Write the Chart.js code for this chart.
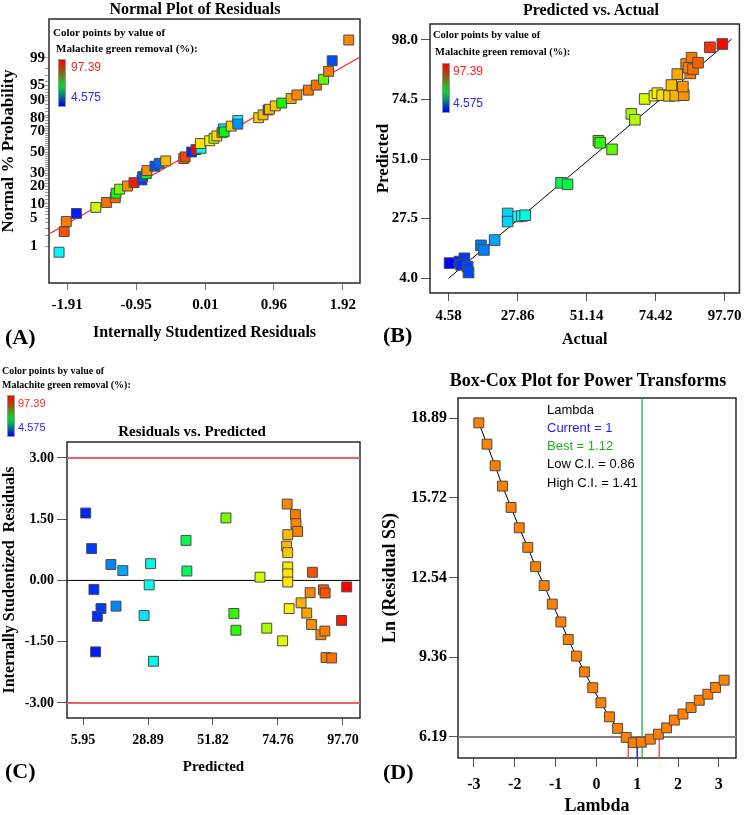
<!DOCTYPE html>
<html><head><meta charset="utf-8">
<script src="https://cdn.jsdelivr.net/npm/chart.js@4.4.1/dist/chart.umd.min.js"></script>
<style>
body{margin:0;background:#fff;width:750px;height:815px;position:relative;overflow:hidden;}
canvas{position:absolute;}
.t{position:absolute;white-space:nowrap;font-family:"Liberation Serif","Times New Roman",serif;font-weight:bold;color:#000;z-index:2;}
.s{position:absolute;white-space:nowrap;font-family:"Liberation Sans",Arial,sans-serif;z-index:2;}
.bar{position:absolute;background:linear-gradient(to bottom,#ff0000 0%,#a84a10 22%,#20c020 48%,#10d040 58%,#008878 76%,#0030d0 90%,#0000ff 100%);border:1px solid #999;z-index:2;}
</style></head><body>
<canvas id="cA" width="375" height="350" style="left:0;top:0"></canvas>
<canvas id="cB" width="375" height="350" style="left:375px;top:0"></canvas>
<canvas id="cC" width="375" height="400" style="left:0;top:400px"></canvas>
<canvas id="cD" width="375" height="435" style="left:375px;top:380px"></canvas>
<script>
// ---------- colour legend ----------
const colorScaleMin = 4.575;
const colorScaleMax = 97.39;

// ---------- Panel A : Normal plot of residuals ----------
const aResidual = [-2.02,-1.95,-1.92,-1.78,-1.51,-1.36,-1.24,-1.23,-1.18,-1.07,-0.98,-0.87,-0.86,-0.81,-0.80,-0.69,-0.63,-0.54,-0.29,-0.27,-0.18,-0.12,-0.05,-0.06,0.07,0.13,0.17,0.24,0.26,0.27,0.37,0.46,0.46,0.75,0.81,0.88,0.90,0.98,1.07,1.20,1.28,1.44,1.55,1.65,1.72,1.77,2.00];
const aProbability = [0.66,2.44,4.27,6.43,8.53,10.6,12.9,15.4,17.9,20.0,22.4,24.5,27.1,29.5,32.3,36.3,39.0,41.3,43.6,45.2,50.0,52.4,53.6,58.3,61.0,63.3,65.5,68.4,71.6,69.1,73.9,78.2,75.5,80.2,82.1,85.1,85.5,87.3,88.7,90.7,92.1,93.7,95.1,96.4,97.7,98.8,99.72];
const aRemoval = [28,90,86,7,70,87,88,52,63,84,95,10,12,50,84,12,14,80,86,91,8,97,30,76,75,68,77,85,26,50,78,28,18,78,80,10,80,79,52,82,85,86,87,60,86,12,85];
const aFitResidual = [-2.16, 2.156];
const aFitProbability = [2.12, 99.06];
const aXTicks = [-1.91,-0.95,0.01,0.96,1.92];
const aYTickProbs = [1,2,3,4,5,6,7,8,9,10,12,14,16,18,20,22,24,26,28,30,32,34,36,38,40,42,44,46,48,50,52,54,56,58,60,62,64,66,68,70,72,74,76,78,80,82,84,86,88,90,91,92,93,94,95,96,97,98,99];
const aYLabeledProbs = [1,5,10,20,30,50,70,80,90,95,99];

// ---------- Panel B : Predicted vs Actual ----------
const bActual = [4.9,8.2,9.9,8.8,11.0,11.3,15.5,16.5,20.1,24.5,24.5,28.0,29.3,30.4,42.5,44.7,55.1,55.7,59.7,66.2,67.4,70.7,74.0,75.0,76.6,78.9,81.0,83.9,79.7,83.6,81.7,86.1,84.7,86.5,85.5,87.0,88.7,92.7,96.9];
const bPredicted = [9.9,10.5,11.8,9.2,8.5,6.2,16.9,15.1,19.0,29.5,26.3,28.3,28.5,28.8,41.6,41.0,58.2,57.4,54.8,68.8,66.5,74.7,76.0,77.0,76.2,75.9,76.0,76.2,80.2,79.6,84.5,84.8,88.5,91.0,87.0,86.5,89.0,95.1,96.4];
const bLineActual = [4.58, 100.0];
const bLinePredicted = [3.9, 98.3];
const bXTicks = [4.58,27.86,51.14,74.42,97.70];
const bYTicks = [4.0,27.5,51.0,74.5,98.0];

// ---------- Panel C : Residuals vs Predicted ----------
const cPredicted = [6.9,9.0,9.8,15.8,20.0,29.8,29.3,42.3,42.6,56.4,68.4,78.0,80.9,81.1,81.7,78.2,77.8,78.2,78.2,78.2,78.2,86.9,86.1,90.8,91.4,99.0,82.9,12.3,11.0,17.6,10.4,27.5,30.8,59.2,59.9,70.8,76.4,78.7,84.9,86.6,89.9,91.3,91.7,93.7,97.2];
const cResidual = [1.65,0.78,-0.22,0.39,0.24,0.41,-0.11,0.98,0.23,1.53,0.08,1.87,1.61,1.39,1.20,1.12,0.84,0.68,0.33,0.16,-0.04,0.20,-0.30,-0.23,-0.31,-0.16,-0.55,-0.69,-0.88,-0.63,-1.75,-0.86,-1.98,-0.81,-1.22,-1.17,-1.48,-0.69,-0.80,-1.08,-1.33,-1.24,-1.89,-1.90,-0.98];
const cRemoval = [8,10,9,17,20,30,29,44,43,62,70,85,86,85,85,80,80,79,76,76,76,90,85,89,90,97,81,10,9,17,7,26,29,55,55,67,72,75,82,84,85,86,86,87,95];
const cLimits = [-3.00, 3.00];
const cXTicks = [5.95,28.89,51.82,74.76,97.70];
const cYTicks = [-3.00,-1.50,0.00,1.50,3.00];

// ---------- Panel D : Box-Cox ----------
const dLambda = [-2.88,-2.68,-2.48,-2.30,-2.09,-1.89,-1.68,-1.49,-1.28,-1.08,-0.87,-0.69,-0.49,-0.29,-0.09,0.11,0.32,0.52,0.73,0.91,1.10,1.32,1.52,1.72,1.91,2.12,2.32,2.52,2.73,2.92,3.13];
const dLnResidualSS = [18.70,17.85,16.99,16.18,15.33,14.52,13.74,12.97,12.22,11.48,10.77,10.07,9.41,8.78,8.15,7.55,6.99,6.53,6.17,5.96,5.98,6.10,6.30,6.55,6.86,7.10,7.36,7.65,7.89,8.16,8.45];
const dCurrentLambda = 1;
const dCurrentLnRSS = 5.97;
const dBestLambda = 1.12;
const dCILines = [0.78, 1.54];
const dThreshold = 6.19;
const dXTicks = [-3,-2,-1,0,1,2,3];
const dYTicks = [6.19,9.36,12.54,15.72,18.89];
const dInfo = ['Lambda','Current = 1','Best = 1.12','Low C.I. = 0.86','High C.I. = 1.41'];

// ---------- helpers ----------
const SERIF = '"Liberation Serif","Times New Roman",serif';
function probit(p){
  const a=[-3.969683028665376e+01,2.209460984245205e+02,-2.759285104469687e+02,1.383577518672690e+02,-3.066479806614716e+01,2.506628277459239e+00];
  const b=[-5.447609879822406e+01,1.615858368580409e+02,-1.556989798598866e+02,6.680131188771972e+01,-1.328068155288572e+01];
  const c=[-7.784894002430293e-03,-3.223964580411365e-01,-2.400758277161838e+00,-2.549732539343734e+00,4.374664141464968e+00,2.938163982698783e+00];
  const d=[7.784695709041462e-03,3.224671290700398e-01,2.445134137142996e+00,3.754408661907416e+00];
  const pl=0.02425, ph=1-pl; let q,r;
  if(p<pl){q=Math.sqrt(-2*Math.log(p));return (((((c[0]*q+c[1])*q+c[2])*q+c[3])*q+c[4])*q+c[5])/((((d[0]*q+d[1])*q+d[2])*q+d[3])*q+1);}
  if(p<=ph){q=p-0.5;r=q*q;return (((((a[0]*r+a[1])*r+a[2])*r+a[3])*r+a[4])*r+a[5])*q/(((((b[0]*r+b[1])*r+b[2])*r+b[3])*r+b[4])*r+1);}
  q=Math.sqrt(-2*Math.log(1-p));return -(((((c[0]*q+c[1])*q+c[2])*q+c[3])*q+c[4])*q+c[5])/((((d[0]*q+d[1])*q+d[2])*q+d[3])*q+1);
}
function removalColor(v){
  const t=Math.min(1,Math.max(0,(v-colorScaleMin)/(colorScaleMax-colorScaleMin)));
  return 'hsl('+(240*(1-t)).toFixed(1)+',100%,49%)';
}
function axis(o){
  return {
    type:'linear', min:o.min, max:o.max,
    afterBuildTicks:s=>{ s.ticks=o.ticks.map(v=>({value:v})); },
    afterFit:s=>{ if(o.horizontal) s.height=o.fit; else s.width=o.fit; },
    grid:{display:true, drawOnChartArea:false, drawTicks:true, tickLength:o.tickLen, tickColor:o.tickColor||'#555', tickWidth:1},
    border:{display:false},
    ticks:{autoSkip:false, maxRotation:0, minRotation:0, padding:o.pad, crossAlign:o.crossAlign||'near', color:'#000',
      font:{family:SERIF, weight:'bold', size:o.size, lineHeight:1}, callback:(v,i)=>o.labels[i]},
    title:{display:true, text:o.title, color:'#000', font:{family:SERIF, weight:'bold', size:o.titleSize, lineHeight:1},
      padding:{top:o.titlePad, bottom:o.titlePad}}
  };
}
const boxPlugin = {id:'box', beforeDatasetsDraw(chart){
  const {ctx, chartArea:a}=chart; ctx.save(); ctx.strokeStyle='#2a2a2a'; ctx.lineWidth=1.5;
  ctx.strokeRect(a.left, a.top, a.right-a.left, a.bottom-a.top); ctx.restore(); }};
function baseOpts(pad, x, y){
  return {responsive:false, animation:false, devicePixelRatio:1, layout:{padding:pad},
    plugins:{legend:{display:false}, tooltip:{enabled:false}, title:{display:false}},
    scales:{x:x, y:y}};
}
function lineDs(pts, color, width, order){
  return {type:'line', data:pts, borderColor:color, borderWidth:width, pointRadius:0, fill:false, tension:0, order:order};
}
function pointDs(pts, colors, r){
  return {data:pts, pointStyle:'rect', pointRadius:r, pointHoverRadius:r, pointBackgroundColor:colors,
    pointBorderColor:'#4a4a4a', pointBorderWidth:1, order:0};
}

// ---------- Chart A ----------
new Chart(document.getElementById('cA'), {
  type:'scatter',
  data:{datasets:[
    pointDs(aResidual.map((r,i)=>({x:r, y:probit(aProbability[i]/100)})), aRemoval.map(removalColor), 7),
    lineDs(aFitResidual.map((r,i)=>({x:r, y:probit(aFitProbability[i]/100)})), '#ff2a2a', 1.2, 1)
  ]},
  options: baseOpts({left:30, top:19, right:15, bottom:0},
    axis({horizontal:true, min:-2.16, max:2.156, ticks:aXTicks, labels:aXTicks.map(v=>v.toFixed(2)), size:15, fit:67, tickLen:7, pad:8, tickColor:'#777',
      title:'Internally Studentized Residuals', titleSize:16, titlePad:9}),
    axis({min:-3.24, max:3.29, ticks:aYTickProbs.map(p=>probit(p/100)), labels:aYTickProbs.map(p=>aYLabeledProbs.includes(p)?String(p):''),
      size:15, fit:19, tickLen:4, pad:0, crossAlign:'far', tickColor:'#999', title:'Normal % Probability', titleSize:17, titlePad:-30})),
  plugins:[boxPlugin]
});

// ---------- Chart B ----------
new Chart(document.getElementById('cB'), {
  type:'scatter',
  data:{datasets:[
    pointDs(bActual.map((a,i)=>({x:a, y:bPredicted[i]})), bActual.map(removalColor), 7.5),
    lineDs(bLineActual.map((a,i)=>({x:a, y:bLinePredicted[i]})), '#000', 1, 1)
  ]},
  options: baseOpts({left:0, top:24, right:4, bottom:0},
    axis({horizontal:true, min:-1.69, max:102.65, ticks:bXTicks, labels:bXTicks.map(v=>v.toFixed(2)), size:15, fit:57, tickLen:8, pad:8,
      title:'Actual', titleSize:16, titlePad:2}),
    axis({min:-1.9, max:104.3, ticks:bYTicks, labels:bYTicks.map(v=>v.toFixed(1)), size:15, fit:55, tickLen:9, pad:3,
      title:'Predicted', titleSize:17, titlePad:0})),
  plugins:[boxPlugin]
});

// ---------- Chart C ----------
const cXMin = 0.3, cXMax = 103.7;
new Chart(document.getElementById('cC'), {
  type:'scatter',
  data:{datasets:[
    pointDs(cPredicted.map((p,i)=>({x:p, y:cResidual[i]})), cRemoval.map(removalColor), 7),
    lineDs([{x:cXMin, y:cLimits[0]},{x:cXMax, y:cLimits[0]}], '#e86464', 2, 1),
    lineDs([{x:cXMin, y:cLimits[1]},{x:cXMax, y:cLimits[1]}], '#e86464', 2, 1),
    lineDs([{x:cXMin, y:0},{x:cXMax, y:0}], '#000', 1, 1)
  ]},
  options: baseOpts({left:0, top:42, right:15, bottom:0},
    axis({horizontal:true, min:cXMin, max:cXMax, ticks:cXTicks, labels:cXTicks.map(v=>v.toFixed(2)), size:14, fit:82, tickLen:7, pad:8,
      title:'Predicted', titleSize:15, titlePad:25}),
    axis({min:-3.37, max:3.39, ticks:cYTicks, labels:cYTicks.map(v=>v.toFixed(2)), size:14, fit:67, tickLen:10, pad:3,
      title:'Internally Studentized  Residuals', titleSize:16, titlePad:2})),
  plugins:[boxPlugin]
});

// ---------- Chart D ----------
const dXMin = -3.39, dXMax = 3.42, dYMin = 5.35, dYMax = 19.69;
new Chart(document.getElementById('cD'), {
  type:'scatter',
  data:{datasets:[
    {type:'line', data:dLambda.map((l,i)=>({x:l, y:dLnResidualSS[i]})), borderColor:'#000', borderWidth:1, tension:0, fill:false,
      pointStyle:'rect', pointRadius:7, pointHoverRadius:7, pointBackgroundColor:'#ff7f00', pointBorderColor:'#4a4a4a', pointBorderWidth:1, order:0},
    lineDs([{x:dXMin, y:dThreshold},{x:dXMax, y:dThreshold}], '#808080', 2, 2),
    lineDs([{x:dBestLambda, y:dYMin},{x:dBestLambda, y:dYMax}], '#1fae4a', 1.3, 1),
    lineDs([{x:dCILines[0], y:dYMin},{x:dCILines[0], y:dThreshold}], '#ff5050', 1.5, 1),
    lineDs([{x:dCILines[1], y:dYMin},{x:dCILines[1], y:dThreshold}], '#ff5050', 1.5, 1),
    lineDs([{x:dCurrentLambda, y:dYMin},{x:dCurrentLambda, y:dCurrentLnRSS}], '#2020e0', 1.5, 1)
  ]},
  options: baseOpts({left:0, top:18, right:14, bottom:0},
    axis({horizontal:true, min:dXMin, max:dXMax, ticks:dXTicks, labels:dXTicks.map(v=>String(v)), size:16, fit:57, tickLen:9, pad:10,
      title:'Lambda', titleSize:18, titlePad:0}),
    axis({min:dYMin, max:dYMax, ticks:dYTicks, labels:dYTicks.map(v=>v.toFixed(2)), size:16, fit:83, tickLen:9, pad:2,
      title:'Ln (Residual SS)', titleSize:18, titlePad:6})),
  plugins:[boxPlugin]
});

// ---------- HTML text (titles, legends, panel labels) ----------
function txt(s, x, cy, size, o){
  o=o||{};
  const d=document.createElement('div'); d.textContent=s; d.className=o.sans?'s':'t';
  d.style.fontSize=size+'px'; d.style.lineHeight=size+'px'; d.style.top=(cy-size/2)+'px';
  if(o.center){ d.style.left=(x-300)+'px'; d.style.width='600px'; d.style.textAlign='center'; }
  else d.style.left=x+'px';
  if(o.color) d.style.color=o.color;
  document.body.appendChild(d);
}
function bar(x, y, w, h){ const d=document.createElement('div'); d.className='bar';
  d.style.left=x+'px'; d.style.top=y+'px'; d.style.width=w+'px'; d.style.height=h+'px'; document.body.appendChild(d); }
function legend(x1, y1, x2, y2, size, bx, by, bh, lx, lsize){
  txt('Color points by value of', x1, y1, size);
  txt('Malachite green removal (%):', x2, y2, size);
  bar(bx, by, 6, bh);
  txt(String(colorScaleMax), lx, by+8, lsize, {sans:true, color:'#ff2020'});
  txt(String(colorScaleMin), lx, by+bh-8, lsize, {sans:true, color:'#2a2aff'});
}
txt('Normal Plot of Residuals', 195, 9, 16, {center:true});
txt('Predicted vs. Actual', 591, 10, 16, {center:true});
txt('Residuals vs. Predicted', 192, 431, 15, {center:true});
txt('Box-Cox Plot for Power Transforms', 588, 380, 18, {center:true});
legend(53, 32, 56, 48, 11, 58, 59, 46, 71, 12);
legend(433, 35, 435, 52, 10.5, 442, 63, 48, 453, 12);
legend(2, 371, 2, 385, 10, 7, 395, 40, 18, 11);
txt('(A)', 5, 337, 22);
txt('(B)', 383, 335, 22);
txt('(C)', 5, 771, 22);
txt('(D)', 383, 772, 22);
const dInfoColors = ['#000','#2020ff','#20b020','#000','#000'];
dInfo.forEach((s,i)=>txt(s, 547, 409+i*18.3, 13, {sans:true, color:dInfoColors[i]}));
</script>
</body></html>
